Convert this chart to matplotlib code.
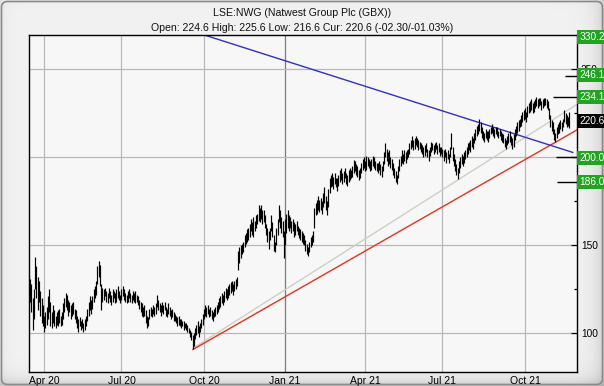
import numpy as np
import pandas as pd
import matplotlib
matplotlib.use('Agg')
import matplotlib.pyplot as plt
import matplotlib.transforms as mtransforms
from matplotlib.patches import Rectangle, FancyBboxPatch

plt.rcParams['font.family'] = ['Liberation Sans', 'DejaVu Sans']

# ---------------- data ----------------
start_date = '2020-03-16'
end_date = '2021-11-19'
uk_holidays = ['2020-04-10', '2020-04-13', '2020-05-08', '2020-05-25', '2020-08-31',
               '2020-12-25', '2020-12-28', '2021-01-01', '2021-04-02', '2021-04-05',
               '2021-05-03', '2021-05-31', '2021-08-30']

lows = [
    115, 118, 112, 102, 108, 125, 120, 113, 118, 110,
    106, 104, 101, 103, 105, 108, 112, 104, 103, 106,
    104, 103, 105, 104, 106, 104, 105, 108, 112, 115,
    113, 110, 112, 108, 110, 111, 108, 106, 103, 101,
    104, 102, 103, 101, 102, 104, 107, 110, 113, 111,
    114, 118, 120, 122, 128, 132, 127, 113, 118, 119,
    121, 118, 117, 120, 118, 116, 118, 120, 117, 118,
    120, 119, 117, 119, 121, 119, 118, 117, 118, 120,
    118, 117, 119, 118, 117, 118, 116, 114, 112, 110,
    109, 110, 106, 103, 104, 108, 110, 109, 111, 110,
    111, 115, 113, 112, 110, 112, 111, 113, 110, 109,
    111, 110, 108, 109, 107, 107, 106, 104, 105, 104,
    103, 104, 102, 103, 102, 101, 100, 98, 96, 91,
    93, 97, 99, 100, 98, 101, 103, 105, 108, 110,
    109, 111, 109, 110, 108, 107, 109, 110, 111, 112,
    114, 115, 117, 116, 118, 120, 119, 120, 122, 123,
    124, 122, 124, 125, 127, 136, 140, 143, 145, 146,
    149, 151, 152, 153, 155, 158, 156, 155, 158, 160,
    162, 164, 163, 165, 162, 163, 160, 156, 152, 148,
    153, 158, 155, 147, 146, 150, 156, 163, 160, 157,
    155, 143, 150, 157, 160, 158, 160, 157, 158, 155,
    156, 158, 156, 154, 153, 152, 151, 150, 147, 145,
    144, 146, 149, 150, 152, 160, 167, 168, 170, 169,
    170, 168, 172, 174, 170, 167, 172, 180, 183, 184,
    182, 185, 183, 181, 184, 186, 187, 185, 186, 188,
    185, 184, 186, 187, 188, 189, 191, 192, 190, 189,
    187, 188, 191, 193, 194, 192, 193, 195, 194, 192,
    193, 195, 194, 193, 192, 191, 193, 190, 189, 192,
    196, 200, 198, 195, 196, 194, 193, 190, 188, 186,
    185, 188, 192, 195, 197, 196, 198, 197, 199, 200,
    202, 205, 206, 204, 205, 207, 206, 204, 205, 203,
    202, 200, 201, 203, 200, 198, 201, 203, 204, 202,
    203, 205, 202, 203, 201, 202, 200, 198, 200, 197,
    199, 197, 200, 205, 198, 195, 192, 190, 187.5, 191,
    194, 196, 195, 197, 199, 200, 202, 204, 203, 206,
    205, 208, 210, 212, 213, 215, 214, 211, 210, 209,
    211, 210, 209, 211, 213, 214, 212, 211, 213, 212,
    211, 212, 210, 209, 208, 206, 205, 207, 208, 209,
    207, 205, 206, 210, 212, 214, 215, 217, 218, 220,
    221, 222, 220, 223, 225, 226, 227, 225, 226, 228,
    229, 228, 229, 230, 227, 228, 229, 230, 228, 227,
    222, 217, 215, 213, 210, 209, 211, 213, 214, 216,
    215, 217, 220, 219, 217, 218, 216.6,
]
highs = [
    133, 131, 128, 120, 125, 143.6, 138, 132, 130, 124,
    120, 116, 110, 112, 115, 121, 125, 118, 112, 116,
    113, 110, 112, 113, 114, 110, 112, 117, 120, 123,
    122, 119, 118, 116, 117, 118, 114, 113, 110, 108,
    109, 107, 108, 106, 108, 110, 114, 118, 121, 119,
    121, 125, 127, 130, 138, 141, 139, 128, 126, 125,
    126, 124, 123, 126, 124, 122, 125, 124, 123, 125,
    127, 124, 122, 125, 127, 125, 123, 122, 124, 125,
    123, 122, 124, 123, 124, 122, 121, 119, 118, 117,
    115, 116, 113, 110, 109, 114, 115, 114, 116, 115,
    117, 122, 119, 117, 116, 118, 116, 118, 115, 114,
    117, 115, 113, 114, 112, 111, 110, 109, 110, 108,
    108, 107, 107, 106, 106, 105, 103, 102, 101, 99,
    100, 103, 105, 107, 104, 106, 108, 111, 114, 116,
    115, 116, 114, 115, 113, 112, 114, 115, 116, 118,
    120, 121, 123, 122, 124, 126, 125, 127, 128, 129,
    130, 128, 130, 131, 132, 147, 149, 150, 151, 152,
    156, 157, 159, 160, 162, 165, 163, 166, 164, 167,
    168, 173, 171, 173, 170, 170, 167, 162, 160, 158,
    160, 167, 163, 156, 152, 160, 165, 173, 170, 166,
    164, 158, 165, 168, 170, 167, 166, 164, 165, 163,
    162, 164, 161, 160, 159, 158, 157, 156, 153, 151,
    149, 152, 155, 156, 158, 171, 174, 176, 178, 176,
    177, 175, 180, 183, 178, 175, 182, 188, 190, 191,
    189, 191, 188, 188, 190, 193, 194, 191, 192, 194,
    191, 190, 193, 194, 193, 195, 198.5, 198, 196, 195,
    193, 194, 197, 199, 200, 198, 201, 200, 199, 198,
    199, 201, 200, 198, 197, 197, 198, 196, 195, 198,
    203, 208, 205, 203, 204, 200, 199, 197, 194, 192,
    190, 195, 199, 201, 204, 202, 204, 203, 204, 205,
    208, 210, 212, 210, 211, 212, 211, 210, 209, 208,
    207, 206, 207, 208, 205, 204, 206, 209, 208, 207,
    208, 209, 207, 208, 206, 206, 205, 204, 205, 203,
    204, 202, 206, 213.6, 206, 202, 199, 196, 194, 198,
    200, 202, 201, 203, 204, 206, 208, 209, 210, 212,
    211, 214, 216, 218, 219, 222, 220, 217, 215, 214,
    216, 215, 215, 216, 217, 219, 217, 216, 217, 217,
    215, 216, 215, 214, 213, 211, 210, 212, 214, 215,
    212, 211, 213, 216, 218, 220, 221, 222, 224, 226,
    227, 228, 226, 229, 231, 232, 233, 231, 232, 233,
    234.5, 233, 234, 234, 232, 233, 234, 234, 233, 232,
    228, 224, 221, 220, 216, 214, 217, 219, 220, 221,
    220, 222, 227, 225, 224, 223, 225.6,
]

title_line1 = 'LSE:NWG (Natwest Group Plc (GBX))'
title_line2 = 'Open: 224.6 High: 225.6 Low: 216.6 Cur: 220.6 (-02.30/-01.03%)'

x_tick_dates = ['2020-04-01', '2020-07-01', '2020-10-01', '2021-01-01',
                '2021-04-01', '2021-07-01', '2021-10-01']
x_tick_labels = ['Apr 20', 'Jul 20', 'Oct 20', 'Jan 21', 'Apr 21', 'Jul 21', 'Oct 21']
y_ticks = [100, 150, 200, 250]
y_tick_labels = ['100', '150', '', '250']   # 200 is fully hidden behind the 200.0 box
y_minor_ticks = [125, 175, 225]

# trend lines: (bar position, price) endpoints
blue_line = [(138.4, 269.5), (428.7, 202.8)]
red_line = [(129.3, 90.8), (431.8, 215.5)]
grey_line = [(129.3, 91.5), (431.8, 230.0)]

# right-hand price levels
level_values = [268.3, 246.6, 234.1, 220.6, 199.8, 186.1]
level_labels = ['330.2', '246.1', '234.1', '220.6', '200.0', '186.0']
level_is_current = [False, False, False, True, False, False]
level_line_values = [246.1, 234.1, 200.0, 186.0]
level_line_from = [422.6, 413.2, 415.5, 416.3]

# ---------------- layout ----------------
W, H = 604, 386
fig = plt.figure(figsize=(W / 100, H / 100), dpi=100)

# panel background with soft bevel
bg = fig.add_axes([0, 0, 1, 1], zorder=-10)
yy, xx = np.mgrid[0:H, 0:W].astype(float)
shade = (0.945
         - 0.13 * np.exp(-(W - 1 - xx) / 9.0)
         - 0.15 * np.exp(-(H - 1 - yy) / 7.0)
         - 0.05 * np.exp(-xx / 5.0)
         - 0.02 * np.exp(-yy / 5.0))
bg.imshow(shade, cmap='gray', vmin=0, vmax=1, aspect='auto', interpolation='bilinear',
          extent=[0, W, H, 0])
bg.set_xlim(0, W)
bg.set_ylim(H, 0)
bg.axis('off')
frame = FancyBboxPatch((1.5, 1.5), W - 3, H - 3, boxstyle='round,pad=0,rounding_size=6',
                       fill=False, edgecolor='#8a8a8a', lw=1.2, transform=bg.transData)
bg.add_patch(frame)

ax_left, ax_right, ax_top, ax_bottom = 28.5, 576.7, 35.4, 371.5
ax = fig.add_axes([ax_left / W, 1 - ax_bottom / H, (ax_right - ax_left) / W,
                   (ax_bottom - ax_top) / H])
ax.set_facecolor('#f7f7f7')

dates = pd.bdate_range(start_date, end_date)
dates = dates[~dates.isin(pd.to_datetime(uk_holidays))]
n = min(len(dates), len(lows), len(highs))
idx = np.arange(n)

ax.set_xlim(-0.3, 431.8)
ax.set_ylim(78.3, 269.3)

# grid
tick_pos = [int(np.searchsorted(dates, pd.Timestamp(d))) for d in x_tick_dates]
for p, lab in zip(tick_pos, x_tick_labels):
    col = '#7a7a7a' if lab.startswith('Jan') else '#b8b8b8'
    ax.axvline(p, color=col, lw=0.9, zorder=1)
for v in y_ticks:
    ax.axhline(v, color='#b8b8b8', lw=0.9, zorder=1)

# trend lines
for line, col, z in [(grey_line, '#cfcfc4', 2), (red_line, '#e8321e', 2), (blue_line, '#2f2fd0', 2)]:
    ax.plot([line[0][0], line[1][0]], [line[0][1], line[1][1]], color=col, lw=1.0, zorder=z)

# price bars
ax.vlines(idx, np.array(lows[:n]), np.array(highs[:n]), color='black', lw=0.85, zorder=3)

# level lines
for v, x0 in zip(level_line_values, level_line_from):
    ax.hlines(v, x0, 431.8, color='black', lw=1.0, zorder=4)

# axes styling
for s in ax.spines.values():
    s.set_color('black')
    s.set_linewidth(1.0)
ax.set_xticks(tick_pos)
ax.set_xticklabels(x_tick_labels)
ax.tick_params(axis='x', length=0, pad=3.5, labelsize=7.5, colors='black')
ax.yaxis.tick_right()
ax.set_yticks(y_ticks)
ax.set_yticklabels(y_tick_labels)
ax.set_yticks(y_minor_ticks, minor=True)
ax.tick_params(axis='y', which='major', direction='in', length=4, width=0.9, pad=3,
               labelsize=7.3, colors='black')
ax.tick_params(axis='y', which='minor', direction='in', length=2.5, width=0.9)

# right-hand level boxes
blend = mtransforms.blended_transform_factory(fig.transFigure, ax.transData)
box_half = 4.0
for v, lab, cur in zip(level_values, level_labels, level_is_current):
    fc = 'black' if cur else '#1fa51f'
    r = Rectangle((577.3 / W, v - box_half), (W - 577.3) / W + 0.02, 2 * box_half,
                  transform=blend, facecolor=fc, edgecolor='none', clip_on=False, zorder=5)
    fig.add_artist(r)
    fig.text(579.2 / W, v, lab, transform=blend, color='white', fontsize=7.3,
             ha='left', va='center', zorder=6)

# titles
fig.text(0.5, 1 - 12.7 / H, title_line1, ha='center', va='center', fontsize=7.6, color='#111111')
fig.text(0.5, 1 - 27.7 / H, title_line2, ha='center', va='center', fontsize=7.6, color='#111111')

fig.savefig('out.png', dpi=100)
